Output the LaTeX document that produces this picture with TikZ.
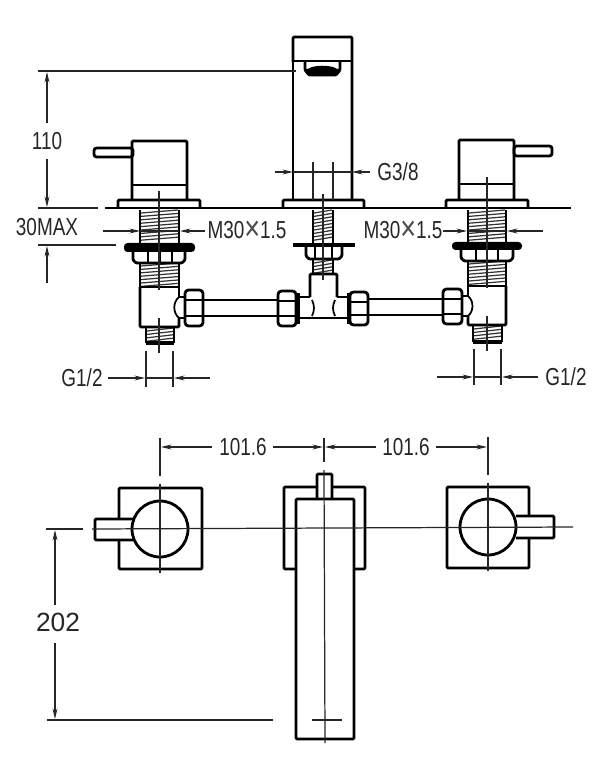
\documentclass[tikz,border=0pt]{standalone}
\usepackage{fontspec}
\setmainfont[FakeStretch=0.77]{Liberation Sans}
\newfontfamily\widefont{Liberation Sans}
\usetikzlibrary{arrows.meta}
\newcommand{\threadbar}[4]{%
  \pgfmathsetmacro{\ynext}{#3+3.4}
  \pgfmathsetmacro{\ylast}{#4-3.2}
  \foreach \yy in {#3,\ynext,...,\ylast} {
    \draw[threadline] (#1+1,\yy+3) -- (#2-1,\yy);
  }
  \draw[partline] (#1,#3) -- (#1,#4) (#2,#3) -- (#2,#4);
}
\newcommand{\crosssign}{\raisebox{-1.6pt}{\fontsize{20}{14}\selectfont\color{black!70}×}}
\begin{document}
\begin{tikzpicture}
[x=0.02cm,y=-0.02cm,
  partline/.style={line width=1.6pt,line join=round,rounded corners=0.6pt},
  thinpart/.style={line width=1pt},
  threadline/.style={line width=0.7pt,black!80},
  centerline/.style={line width=0.7pt,black!85},
  dimline/.style={line width=0.7pt,black!85},
  dimarrow/.style={line width=0.7pt,black!85,-{Stealth[length=6pt,width=2.8pt]}},
  dimtext/.style={font=\fontsize{14}{14}\selectfont,text=black!85,inner sep=0pt}]
\useasboundingbox (0,0) rectangle (600,773);
%% spout, elevation
\draw[partline] (293,62) -- (293,37) -- (352,37) -- (352,200);
\draw[partline] (293,62) -- (293,200);
\draw[partline] (293,61) -- (352,61);
\draw[partline] (305,62) -- (305,70) -- (309,75) -- (336,75) -- (340,70) -- (340,62);
\fill (306,69) -- (339,69) -- (335,76) -- (310,76) -- cycle;
\fill (312,67) to[bend left=12] (333,67) -- (339,70) -- (306,70) -- cycle;
%% handles, elevation
\foreach \xa/\xb/\xc/\xd/\ya/\yb in {132/187/118/200/141/185, 459/514/446/528/140/184} {
  \draw[partline] (\xa,200) -- (\xa,\ya) -- (\xb,\ya) -- (\xb,200);
  \draw[partline] (\xa,\yb) -- (\xb,\yb);
  \draw[partline] (\xc,208) -- (\xc,200) -- (\xd,200) -- (\xd,208);
}
\draw[partline,rounded corners=1.5pt] (133,148) -- (94,148) -- (94,157) -- (133,157) -- cycle;
\draw[partline,rounded corners=1.5pt] (514,146) -- (552,146) -- (552,156) -- (514,156) -- cycle;
\draw[partline] (283,208) -- (283,200) -- (364,200) -- (364,208);
\draw[partline] (105,208) -- (571,208);
%% threads
\threadbar{140}{179}{210}{243}
\threadbar{140}{179}{263}{287}
\threadbar{146}{174}{328}{343}
\threadbar{468}{506}{210}{243}
\threadbar{468}{506}{261}{286}
\threadbar{473}{502}{326}{342}
\threadbar{313}{333}{210}{243}
\threadbar{313}{333}{260}{274}
\draw[line width=2.2pt] (146,343) -- (174,343);
\draw[line width=2.2pt] (473,342) -- (502,342);
\draw[partline] (140,287) -- (179,287);
\draw[partline] (468,286) -- (506,286);
%% washers
\fill[rounded corners=2pt] (124,243) rectangle (195,252);
\fill[rounded corners=2pt] (452,242) rectangle (522,250);
\fill (293,243) rectangle (355,247);
%% locknuts
\foreach \xa/\xb/\xc/\xd/\xe/\ya/\yb in {133/148/160/172/185/252/263, 461/476/487/498/513/250/261, 306/315/323/332/342/247/259} {
  \draw[partline] (\xa,\ya) -- (\xa,\yb-3) -- (\xa+3,\yb) -- (\xe-3,\yb) -- (\xe,\yb-3) -- (\xe,\ya);
  \draw[thinpart] (\xb,\ya) -- (\xb,\yb) (\xc,\ya) -- (\xc,\yb) (\xd,\ya) -- (\xd,\yb);
}
%% valve bodies and tee
\draw[partline] (140,287) -- (140,327) -- (179,327) -- (179,318);
\draw[partline] (179,287) -- (179,297);
\draw[partline] (468,286) -- (468,296);
\draw[partline] (468,316) -- (468,325) -- (506,325) -- (506,286);
\draw[partline] (310,297) -- (310,274) -- (337,274) -- (337,297);
\draw[partline] (296,297) -- (310,297);
\draw[partline] (337,297) -- (350,297);
\draw[partline] (296,318) -- (350,318);
\draw[thinpart] (312,300) to[bend left=25] (312,316);
\draw[thinpart] (335,300) to[bend right=25] (335,316);
\draw[thinpart] (179,297) to[bend right=50] (179,318);
\draw[thinpart] (468,296) to[bend left=50] (468,316);
\draw[partline] (179,297) -- (185,297) (179,318) -- (185,318);
\draw[partline] (462,296) -- (468,296) (462,316) -- (468,316);
%% pipes and union nuts
\draw[partline] (203,300) -- (278,300) (203,316) -- (278,316);
\draw[partline] (368,299) -- (443,299) (368,315) -- (443,315);
\foreach \xa/\xb/\ya/\yb in {185/203/290/326, 278/296/291/326, 350/368/292/325, 443/462/289/324} {
  \draw[partline,rounded corners=2pt] (\xa,\ya) rectangle (\xb,\yb);
  \draw[thinpart] (\xa,\ya+10) -- (\xb,\ya+10) (\xa,\yb-10) -- (\xb,\yb-10);
}
\draw[line width=2.4pt] (298,293) -- (298,324);
\draw[line width=2.4pt] (349,293) -- (349,324);
%% centre lines, elevation
\foreach \x/\ya/\yb in {159/191/290, 159/318/353, 487/177/288, 487/316/351, 323/194/280} {
  \draw[centerline] (\x,\ya) -- (\x,\yb);
}
%% lines of dimensions, elevation
\foreach \xa/\ya/\xb/\yb in {38/71/296/71, 38/208/98/208, 38/245/116/245, 293/172/352/172,
  140/231/179/231, 468/231/506/231, 146/378/173/378, 474/377/501/377,
  313/162/313/200, 333/162/333/200, 146/351/146/387, 173/351/173/387, 474/349/474/385, 501/349/501/385} {
  \draw[dimline] (\xa,\ya) -- (\xb,\yb);
}
%% plan, plates behind the lever and spout
\draw[partline] (119,519) -- (119,488) -- (202,488) -- (202,569) -- (119,569) -- (119,540);
\draw[partline] (529,516) -- (529,487) -- (447,487) -- (447,568) -- (529,568) -- (529,538);
\draw[partline] (133,519) -- (95,519) -- (95,540) -- (133,540);
\draw[partline] (516,516) -- (554,516) -- (554,538) -- (516,538);
\draw[partline] (160,529) circle (0.56cm);
\draw[partline] (488,527) circle (0.56cm);
\draw[partline] (296,569) -- (284,569) -- (284,487) -- (317,487);
\draw[partline] (332,487) -- (365,487) -- (365,569) -- (354,569);
\draw[partline] (317,499) -- (317,474) -- (332,474) -- (332,499);
\draw[partline] (296,739) -- (296,499) -- (354,499) -- (354,739) -- cycle;
%% centre lines, plan
\foreach \xa/\ya/\xb/\yb in {92/529/573/527, 160/484/160/573, 488/483/488/571, 324/470/325/743, 312/720/342/720} {
  \draw[centerline] (\xa,\ya) -- (\xb,\yb);
}
%% lines of dimensions, plan
\foreach \xa/\ya/\xb/\yb in {46/529/83/529, 47/720/273/720, 160/438/160/476, 324/438/324/462, 488/437/488/475} {
  \draw[dimline] (\xa,\ya) -- (\xb,\yb);
}
%% arrows of dimensions
\foreach \xa/\ya/\xb/\yb in {47/123/47/72, 47/159/47/207, 47/283/47/246, 275/172/293/172, 370/172/352/172,
  103/231/140/231, 205/231/180/231, 443/231/467/231, 543/231/507/231,
  108/378/145/378, 210/378/174/378, 437/377/473/377, 538/377/502/377,
  212/447/161/447, 273/447/323/447, 376/447/325/447, 436/447/487/447,
  55/605/55/530, 55/643/55/719} {
  \draw[dimarrow] (\xa,\ya) -- (\xb,\yb);
}
%% labels
\foreach \nodename/\x/\y/\labeltext in {h110/47/141/110, max30/47/227/30MAX, g38/398/172/G3{/}8,
  m30a/247/231/M30\crosssign 1.5, m30b/403/231/M30\crosssign 1.5,
  g12a/82/378/G1{/}2, g12b/566/377/G1{/}2, pitcha/243/447/101.6, pitchb/406/447/101.6} {
  \node (\nodename) at (\x,\y) [dimtext] {\labeltext};
}
\node (depth202) at (58,622) [dimtext,font=\fontsize{15}{15}\selectfont\widefont] {202};
\end{tikzpicture}
\end{document}
